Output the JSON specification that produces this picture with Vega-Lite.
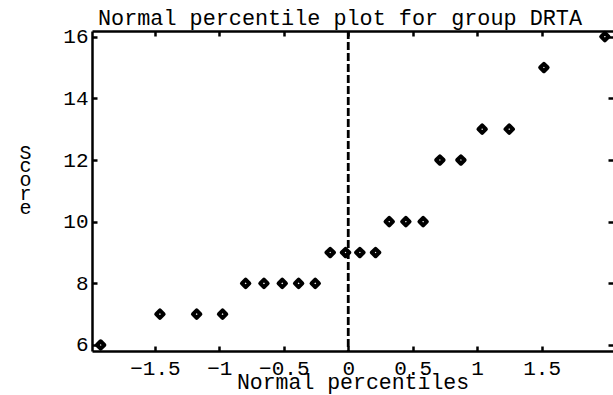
{
  "$schema": "https://vega.github.io/schema/vega-lite/v6.json",
  "autosize": "none",
  "width": 521,
  "height": 320,
  "padding": {"left": 92, "top": 31, "right": 0, "bottom": 44},
  "background": "white",
  "title": {
    "text": "Normal percentile plot for group DRTA",
    "font": "Liberation Mono",
    "fontSize": 21.8,
    "fontWeight": "normal",
    "color": "black",
    "anchor": "start",
    "frame": "group",
    "dx": 6,
    "dy": 28,
    "baseline": "alphabetic",
    "offset": 7
  },
  "config": {
    "view": {"stroke": null},
    "axis": {
      "grid": false,
      "domainColor": "black",
      "domainWidth": 2.5,
      "tickColor": "black",
      "tickWidth": 2.5,
      "tickSize": -5,
      "labelFont": "Liberation Mono",
      "labelFontSize": 21,
      "labelColor": "black",
      "titleFont": "Liberation Mono",
      "titleFontWeight": "normal",
      "titleColor": "black"
    }
  },
  "data": {
    "values": [
      {"z": -1.921, "score": 6},
      {"z": -1.461, "score": 7},
      {"z": -1.176, "score": 7},
      {"z": -0.975, "score": 7},
      {"z": -0.796, "score": 8},
      {"z": -0.654, "score": 8},
      {"z": -0.512, "score": 8},
      {"z": -0.385, "score": 8},
      {"z": -0.256, "score": 8},
      {"z": -0.140, "score": 9},
      {"z": -0.021, "score": 9},
      {"z": 0.090, "score": 9},
      {"z": 0.212, "score": 9},
      {"z": 0.318, "score": 10},
      {"z": 0.447, "score": 10},
      {"z": 0.581, "score": 10},
      {"z": 0.711, "score": 12},
      {"z": 0.874, "score": 12},
      {"z": 1.039, "score": 13},
      {"z": 1.249, "score": 13},
      {"z": 1.518, "score": 15},
      {"z": 1.991, "score": 16}
    ]
  },
  "layer": [
    {
      "mark": {"type": "point", "shape": "diamond", "filled": false, "stroke": "black", "strokeWidth": 4, "size": 55, "strokeJoin": "round", "opacity": 1, "clip": false},
      "encoding": {
        "x": {
          "field": "z", "type": "quantitative",
          "scale": {"domain": [-1.988, 2.054], "nice": false, "zero": false},
          "axis": {
            "orient": "bottom",
            "values": [-1.5, -1, -0.5, 0, 0.5, 1, 1.5],
            "format": "~g",
            "labelPadding": 11,
            "labelFlush": false,
            "labelOverlap": false,
            "title": "Normal percentiles",
            "titleFontSize": 21.5,
            "titlePadding": -7
          }
        },
        "y": {
          "field": "score", "type": "quantitative",
          "scale": {"domain": [5.805, 16.185], "nice": false, "zero": false},
          "axis": {
            "orient": "left",
            "values": [6, 8, 10, 12, 14, 16],
            "labelPadding": 9,
            "labelFlush": false,
            "labelOverlap": false,
            "title": ["S", "c", "o", "r", "e"],
            "titleFontSize": 20,
            "titleLineHeight": 13.8,
            "titleAngle": 0,
            "titleAlign": "center",
            "titleBaseline": "alphabetic",
            "titleX": -67,
            "titleY": 127
          }
        }
      }
    },
    {
      "mark": {"type": "point", "opacity": 0},
      "encoding": {
        "x": {
          "field": "z", "type": "quantitative",
          "axis": {"orient": "top", "values": [-1.5, -1, -0.5, 0, 0.5, 1, 1.5], "labels": false, "title": null}
        },
        "y": {
          "field": "score", "type": "quantitative",
          "axis": {"orient": "right", "values": [6, 8, 10, 12, 14, 16], "labels": false, "title": null, "domain": false}
        }
      }
    },
    {
      "data": {"values": [{"z": 0}]},
      "mark": {"type": "rule", "color": "black", "strokeWidth": 2.8, "strokeDash": [8, 3]},
      "encoding": {
        "x": {"field": "z", "type": "quantitative", "axis": null}
      }
    }
  ],
  "resolve": {"axis": {"x": "independent", "y": "independent"}}
}
